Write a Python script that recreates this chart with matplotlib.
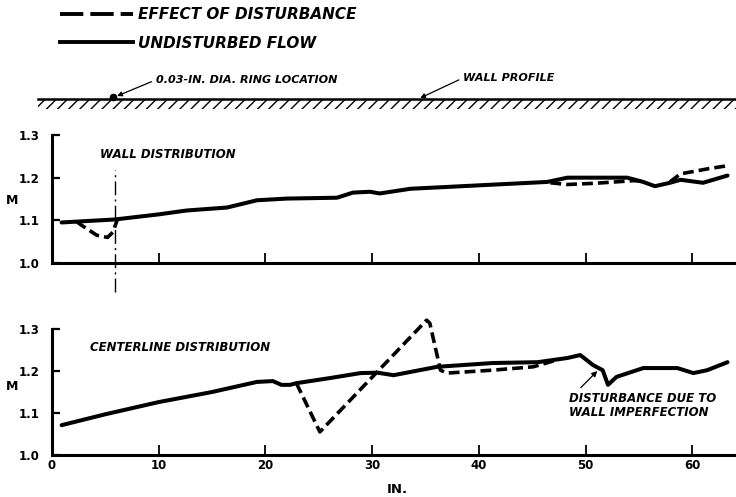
import numpy as np
import matplotlib
matplotlib.use("Agg")
import matplotlib.pyplot as plt
from matplotlib.lines import Line2D

plt.rcParams['font.family'] = ['DejaVu Sans']
plt.rcParams['font.weight'] = 'bold'
plt.rcParams['hatch.linewidth'] = 1.0

nan = np.nan

# wall distribution (in., Mach number)
wall_x = [0.9, 3, 5.9, 10, 12.6, 16.4, 19.2, 22, 26.7, 28.2, 29.8, 30.7, 33.6, 40,
          46.4, 48.3, 53.9, 55.4, 56.5, 57.9, 58.9, 61, 63.3]
wall_m = [1.095, 1.098, 1.102, 1.114, 1.123, 1.13, 1.147, 1.151, 1.153, 1.165, 1.167,
          1.163, 1.174, 1.182, 1.19, 1.2, 1.2, 1.19, 1.18, 1.188, 1.195, 1.188, 1.205]
wall_dist_x = [2.3, 2.8, 4.2, 5.2, 5.7, 6.1, nan,
               46.7, 48.3, 51, 54.5, 55.4, nan,
               57.9, 58.9, 60, 61.5, 63.3]
wall_dist_m = [1.097, 1.088, 1.065, 1.06, 1.072, 1.1, nan,
               1.188, 1.184, 1.187, 1.193, 1.192, nan,
               1.19, 1.209, 1.214, 1.221, 1.228]

# centerline distribution
cl_x = [0.9, 5, 10, 15, 19.2, 20.7, 21.5, 22.3, 22.9, 26, 28.9, 30.5, 32, 36.1, 41.3,
        45.5, 48.3, 49.5, 50.7, 51.6, 52.1, 52.9, 55.4, 58.6, 60.1, 61.4, 63.3]
cl_m = [1.071, 1.097, 1.126, 1.15, 1.174, 1.176, 1.167, 1.167, 1.171, 1.183, 1.195,
        1.196, 1.19, 1.21, 1.219, 1.221, 1.231, 1.238, 1.214, 1.202, 1.167, 1.186,
        1.207, 1.207, 1.195, 1.202, 1.221]
cl_dist_x = [22.9, 25.1, 35.1, 35.4, 36.4, 37, 41.3, 45.1, 47]
cl_dist_m = [1.171, 1.055, 1.321, 1.314, 1.202, 1.195, 1.202, 1.21, 1.224]

ring_x = 5.9
x_ticks = [10, 20, 30, 40, 50, 60]
m_ticks = [1.0, 1.1, 1.2, 1.3]

W, H = 736, 497
fig = plt.figure(figsize=(W / 100, H / 100), dpi=100)

L, AW = 52 / W, 683 / W
ax1 = fig.add_axes([L, 1 - 263 / H, AW, 128 / H])
ax2 = fig.add_axes([L, 1 - 455 / H, AW, 126 / H])

solid_kw = dict(color='black', lw=2.9, solid_capstyle='round', solid_joinstyle='round')
dash_kw = dict(color='black', lw=2.6, dashes=(3.0, 1.4), dash_capstyle='butt',
               clip_on=False)

for ax in (ax1, ax2):
    ax.set_xlim(0, 64)
    ax.set_ylim(1.0, 1.3)
    for s in ('top', 'right'):
        ax.spines[s].set_visible(False)
    for s in ('left', 'bottom'):
        ax.spines[s].set_linewidth(2.2)
    ax.set_yticks(m_ticks)
    ax.set_yticklabels(['1.0', '1.1', '1.2', '1.3'])
    ax.tick_params(axis='y', direction='in', length=6, width=1.6, pad=9, labelsize=8.5)
    ax.tick_params(axis='x', direction='in', length=7, width=1.3, pad=3, labelsize=8.5)
    ax.set_ylabel('M', rotation=0, fontsize=9, fontweight='bold')

ax1.set_xticks(x_ticks)
ax1.set_xticklabels([])
ax1.yaxis.set_label_coords(-0.058, 0.44)
ax2.set_xticks([0] + x_ticks)
ax2.set_xticklabels(['0'] + [str(t) for t in x_ticks])
ax2.yaxis.set_label_coords(-0.058, 0.49)
ax2.set_xlabel('IN.', fontsize=9.5, fontweight='bold')
ax2.xaxis.set_label_coords(0.505, -0.22)

ax1.plot(wall_x, wall_m, **solid_kw)
ax1.plot(wall_dist_x, wall_dist_m, **dash_kw)
ax2.plot(cl_x, cl_m, **solid_kw)
ax2.plot(cl_dist_x, cl_dist_m, **dash_kw)

# ring station, carried below the wall plot
ax1.axvline(ring_x, ymin=-0.23, ymax=0.73, color='black', lw=1.0,
            dashes=(10, 3, 1.5, 3), clip_on=False)

lab = dict(fontsize=8.5, fontweight='bold', style='italic')
ax1.text(4.5, 1.255, 'WALL DISTRIBUTION', va='center', ha='left', **lab)
ax2.text(3.6, 1.257, 'CENTERLINE DISTRIBUTION', va='center', ha='left', **lab)
ax2.annotate('DISTURBANCE DUE TO\nWALL IMPERFECTION', xy=(51.1, 1.2), xytext=(48.4, 1.117),
             ha='left', va='center', linespacing=1.1, **lab,
             arrowprops=dict(arrowstyle='-|>', color='black', lw=0.9,
                             mutation_scale=8, relpos=(0, 0.72), shrinkA=2, shrinkB=0))

# wall profile strip
wax = fig.add_axes([L, 1 - 115 / H, AW, 55 / H])
wax.set_xlim(0, 64)
wax.set_ylim(0, 55)
wax.axis('off')
wall_y = 16
wax.plot([-1.3, 64.2], [wall_y, wall_y], color='black', lw=1.8, clip_on=False)
wax.fill_between([-1.3, 64.2], wall_y - 10, wall_y, facecolor='none', edgecolor='black',
                 hatch='///', lw=0, clip_on=False)
wax.plot([ring_x - 0.15], [wall_y + 1.5], 'o', color='black', ms=4.5, clip_on=False)
small = dict(fontsize=8, fontweight='bold', style='italic')
wax.annotate('0.03-IN. DIA. RING LOCATION', xy=(ring_x + 0.2, wall_y + 3), xytext=(9.7, 35),
             ha='left', va='center', **small,
             arrowprops=dict(arrowstyle='-|>', color='black', lw=0.9, mutation_scale=7,
                             relpos=(0, 0.5), shrinkA=1, shrinkB=0))
wax.annotate('WALL PROFILE', xy=(34.5, wall_y + 1), xytext=(38.5, 37),
             ha='left', va='center', **small,
             arrowprops=dict(arrowstyle='-|>', color='black', lw=0.9, mutation_scale=7,
                             relpos=(0, 0.5), shrinkA=1, shrinkB=0))

handles = [Line2D([], [], color='black', lw=2.8, dashes=(6, 1.8)),
           Line2D([], [], color='black', lw=2.8)]
fig.legend(handles, ['EFFECT OF DISTURBANCE', 'UNDISTURBED FLOW'],
           loc='upper left', bbox_to_anchor=(60 / W, 1 - 7 / H), frameon=False,
           handlelength=4.8, handletextpad=0.3, labelspacing=0.9, borderpad=0,
           borderaxespad=0, prop=dict(size=11, weight='bold', style='italic'))

fig.savefig('out.png', dpi=100)
